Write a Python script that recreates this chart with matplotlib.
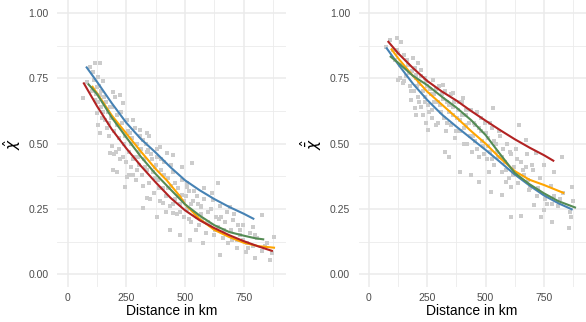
import numpy as np
import matplotlib
matplotlib.use('Agg')
import matplotlib.pyplot as plt
from matplotlib.ticker import MultipleLocator

plt.rcParams['font.family'] = ['Liberation Sans', 'DejaVu Sans']

# ---- left panel: scatter cloud
left_pts_x = [67, 84, 95, 116, 138, 109, 131, 124, 116, 138, 124, 131, 145, 138, 195, 202, 180, 223, 237,
              180, 195, 209, 251, 244, 280, 277, 266, 308, 322, 337, 344, 301, 379, 372, 393, 422, 450,
              322, 337, 379, 408, 436, 450, 479, 486, 507, 528, 521, 550, 570, 578, 592, 621, 642, 649,
              655, 692, 706, 720, 734, 760, 798, 791, 826, 862, 869, 879,
              105, 112, 120, 128, 135, 142, 150, 156, 160, 168, 172, 178, 185, 190, 198, 205, 212, 218,
              225, 232, 240, 248, 255, 262, 270, 276, 284, 290, 296, 304, 312, 318, 326, 333, 340, 348,
              355, 362, 368, 376, 384, 392, 398, 405, 412, 420, 428, 435, 442, 450, 458, 465, 472, 480,
              488, 495, 502, 510, 518, 526, 534, 542, 550, 558, 566, 574, 582, 590, 598, 606, 614, 622,
              630, 640, 650, 660, 672, 684, 696, 708, 720, 735, 748, 762, 776, 790, 805, 830, 850,
              140, 152, 165, 176, 188, 196, 210, 220, 228, 236, 244, 252, 260, 268, 278, 286, 294, 302,
              310, 320, 330, 338, 346, 352, 360, 372, 380, 388, 396, 410, 418, 426, 440, 448, 456, 470,
              478, 486, 494, 508, 516, 524, 540, 548, 556, 570, 580, 596, 610, 628, 645, 665, 680, 700,
              725, 745, 770, 800, 840]
left_pts_y = [0.673, 0.737, 0.795, 0.81, 0.807, 0.776, 0.756, 0.718, 0.667, 0.686, 0.616, 0.571, 0.597,
              0.54, 0.699, 0.68, 0.642, 0.686, 0.654, 0.463, 0.399, 0.393, 0.374, 0.335, 0.38, 0.59,
              0.54, 0.552, 0.514, 0.54, 0.476, 0.45, 0.45, 0.412, 0.489, 0.463, 0.457, 0.253, 0.291,
              0.221, 0.272, 0.17, 0.233, 0.151, 0.304, 0.335, 0.425, 0.131, 0.221, 0.259, 0.119, 0.195,
              0.284, 0.348, 0.074, 0.221, 0.259, 0.208, 0.131, 0.17, 0.087, 0.064, 0.182, 0.227, 0.055,
              0.08, 0.142,
              0.70, 0.745, 0.69, 0.66, 0.72, 0.64, 0.62, 0.68, 0.59, 0.56, 0.62, 0.53, 0.60, 0.49, 0.55,
              0.47, 0.61, 0.52, 0.44, 0.58, 0.50, 0.43, 0.55, 0.47, 0.41, 0.52, 0.45, 0.36, 0.50, 0.42,
              0.48, 0.38, 0.44, 0.50, 0.40, 0.35, 0.46, 0.39, 0.31, 0.42, 0.36, 0.28, 0.40, 0.33, 0.43,
              0.30, 0.37, 0.26, 0.34, 0.39, 0.29, 0.23, 0.33, 0.27, 0.36, 0.22, 0.30, 0.25, 0.32, 0.20,
              0.28, 0.23, 0.30, 0.19, 0.26, 0.21, 0.29, 0.16, 0.24, 0.19, 0.31, 0.15, 0.22, 0.18, 0.26,
              0.14, 0.20, 0.12, 0.17, 0.23, 0.10, 0.15, 0.19, 0.12, 0.16, 0.11, 0.14, 0.09, 0.12,
              0.70, 0.74, 0.66, 0.58, 0.64, 0.46, 0.57, 0.48, 0.62, 0.45, 0.53, 0.59, 0.38, 0.50, 0.44,
              0.56, 0.40, 0.47, 0.53, 0.34, 0.41, 0.47, 0.53, 0.29, 0.44, 0.37, 0.48, 0.33, 0.44, 0.38,
              0.24, 0.33, 0.42, 0.27, 0.35, 0.30, 0.24, 0.41, 0.28, 0.35, 0.21, 0.27, 0.32, 0.17, 0.27,
              0.23, 0.33, 0.20, 0.25, 0.17, 0.21, 0.17, 0.24, 0.13, 0.19, 0.13, 0.10, 0.15, 0.11]

# ---- left panel: fitted curves
l_blue_x = [81, 125, 188, 250, 312, 375, 438, 500, 562, 625, 688, 750, 791]
l_blue_y = [0.792, 0.737, 0.655, 0.580, 0.518, 0.466, 0.410, 0.360, 0.322, 0.288, 0.258, 0.232, 0.213]
l_orange_x = [106, 150, 188, 250, 312, 375, 422, 480, 500, 562, 625, 688, 750, 812, 879]
l_orange_y = [0.718, 0.660, 0.608, 0.539, 0.470, 0.403, 0.360, 0.297, 0.268, 0.212, 0.170, 0.143, 0.121, 0.108, 0.102]
l_green_x = [89, 125, 188, 250, 312, 375, 438, 500, 562, 625, 688, 750, 800, 833]
l_green_y = [0.727, 0.690, 0.600, 0.524, 0.450, 0.384, 0.325, 0.268, 0.225, 0.188, 0.162, 0.148, 0.138, 0.134]
l_red_x = [69, 125, 188, 250, 312, 375, 438, 500, 562, 625, 688, 750, 812, 870]
l_red_y = [0.731, 0.644, 0.555, 0.482, 0.415, 0.352, 0.293, 0.245, 0.207, 0.177, 0.150, 0.127, 0.107, 0.090]

# ---- right panel: scatter cloud
right_pts_x = [75, 89, 118, 139, 104, 125, 132, 146, 125, 189, 210, 224, 203, 182, 196, 203, 246, 253,
               239, 274, 317, 359, 402, 416, 324, 345, 388, 437, 473, 515, 522, 530, 569, 587, 608, 608,
               643, 650, 672, 672, 686, 707, 714, 736, 750, 785, 793, 828, 864, 857, 871,
               110, 120, 135, 148, 158, 166, 175, 184, 192, 200, 208, 216, 224, 232, 240, 248, 256, 264,
               272, 280, 288, 296, 304, 312, 320, 328, 336, 344, 352, 360, 368, 376, 384, 392, 400, 408,
               416, 424, 432, 440, 448, 456, 464, 472, 480, 488, 496, 504, 512, 520, 528, 536, 544, 552,
               560, 568, 576, 584, 592, 600, 610, 620, 630, 640, 652, 664, 676, 690, 704, 718, 732, 748,
               762, 778, 795, 812, 830, 860, 875,
               150, 162, 172, 180, 196, 205, 214, 222, 230, 238, 246, 254, 262, 270, 278, 286, 294, 302,
               310, 318, 326, 334, 342, 350, 358, 366, 374, 382, 390, 398, 406, 414, 422, 430, 438, 446,
               454, 462, 470, 478, 486, 494, 502, 510, 518, 526, 534, 548, 556, 572, 588, 604, 618, 636,
               660, 682, 700, 726, 756, 784, 820]
right_pts_y = [0.871, 0.897, 0.903, 0.89, 0.858, 0.846, 0.75, 0.731, 0.744, 0.827, 0.807, 0.782, 0.763,
               0.667, 0.635, 0.61, 0.578, 0.552, 0.75, 0.744, 0.724, 0.693, 0.673, 0.629, 0.469, 0.45,
               0.393, 0.38, 0.355, 0.393, 0.316, 0.635, 0.304, 0.355, 0.335, 0.221, 0.571, 0.223, 0.514,
               0.412, 0.323, 0.265, 0.463, 0.221, 0.246, 0.202, 0.393, 0.45, 0.221, 0.176, 0.335,
               0.82, 0.86, 0.80, 0.84, 0.76, 0.80, 0.72, 0.78, 0.70, 0.75, 0.68, 0.73, 0.64, 0.70, 0.66,
               0.72, 0.62, 0.69, 0.60, 0.66, 0.71, 0.58, 0.65, 0.69, 0.60, 0.55, 0.66, 0.62, 0.57, 0.64,
               0.52, 0.60, 0.66, 0.55, 0.61, 0.50, 0.57, 0.63, 0.53, 0.47, 0.58, 0.51, 0.62, 0.45, 0.55,
               0.49, 0.58, 0.44, 0.52, 0.47, 0.56, 0.42, 0.50, 0.45, 0.53, 0.39, 0.48, 0.43, 0.50, 0.37,
               0.46, 0.41, 0.48, 0.35, 0.43, 0.38, 0.46, 0.33, 0.40, 0.30, 0.37, 0.42, 0.27, 0.34, 0.30,
               0.26, 0.31, 0.24, 0.28,
               0.74, 0.82, 0.77, 0.70, 0.79, 0.72, 0.66, 0.76, 0.61, 0.68, 0.74, 0.65, 0.71, 0.63, 0.69,
               0.57, 0.66, 0.72, 0.62, 0.67, 0.70, 0.58, 0.65, 0.69, 0.61, 0.66, 0.55, 0.63, 0.59, 0.66,
               0.56, 0.61, 0.50, 0.58, 0.63, 0.53, 0.57, 0.48, 0.56, 0.60, 0.51, 0.46, 0.54, 0.49, 0.58,
               0.44, 0.51, 0.47, 0.55, 0.45, 0.40, 0.47, 0.38, 0.44, 0.40, 0.36, 0.42, 0.33, 0.29, 0.27,
               0.29]

# ---- right panel: fitted curves
r_blue_x = [76, 125, 188, 250, 312, 375, 438, 500, 562, 625, 688, 750, 812, 869]
r_blue_y = [0.865, 0.804, 0.730, 0.667, 0.612, 0.565, 0.520, 0.476, 0.430, 0.382, 0.340, 0.302, 0.272, 0.249]
r_orange_x = [97, 125, 188, 250, 312, 375, 438, 500, 562, 625, 688, 750, 833]
r_orange_y = [0.861, 0.827, 0.760, 0.699, 0.650, 0.600, 0.548, 0.500, 0.445, 0.395, 0.362, 0.342, 0.312]
r_green_x = [93, 125, 188, 250, 312, 375, 438, 500, 562, 625, 688, 750, 812, 883]
r_green_y = [0.833, 0.810, 0.760, 0.724, 0.680, 0.638, 0.590, 0.533, 0.460, 0.388, 0.345, 0.310, 0.280, 0.256]
r_red_x = [83, 125, 188, 250, 312, 375, 438, 500, 562, 625, 688, 750, 790]
r_red_y = [0.890, 0.846, 0.790, 0.740, 0.700, 0.665, 0.625, 0.588, 0.552, 0.517, 0.485, 0.456, 0.435]

x_ticks = [0, 250, 500, 750]
y_ticks = [0.00, 0.25, 0.50, 0.75, 1.00]

c_blue = '#4682B4'
c_orange = '#FFA500'
c_green = '#548B54'
c_red = '#B22222'
c_pts = '#CCCCCC'

fig = plt.figure(figsize=(5.86, 3.22), dpi=100)
ax1 = fig.add_axes([57.1 / 586, 1 - 287.4 / 322, 228.4 / 586, 287.4 / 322])
ax2 = fig.add_axes([358.5 / 586, 1 - 287.4 / 322, 227.0 / 586, 287.4 / 322])


def style(ax, ylab):
    ax.set_xlim(-45, 928)
    ax.set_ylim(-0.05, 1.05)
    ax.set_xticks(x_ticks)
    ax.set_xticklabels([str(v) for v in x_ticks])
    ax.set_yticks(y_ticks)
    ax.set_yticklabels(['%.2f' % v for v in y_ticks])
    ax.xaxis.set_minor_locator(MultipleLocator(125))
    ax.yaxis.set_minor_locator(MultipleLocator(0.125))
    ax.grid(which='major', color='#EBEBEB', lw=1.1, zorder=0)
    ax.grid(which='minor', color='#EBEBEB', lw=0.6, zorder=0)
    ax.set_axisbelow(True)
    for s in ax.spines.values():
        s.set_visible(False)
    ax.tick_params(which='both', length=0, labelsize=7.5, labelcolor='#4D4D4D')
    ax.tick_params(axis='y', pad=6)
    ax.tick_params(axis='x', pad=4)
    ax.set_xlabel('Distance in km', fontsize=10, labelpad=1)
    ax.set_ylabel(ylab, fontsize=11, labelpad=4)


ax1.scatter(left_pts_x, left_pts_y, s=5, marker='s', color=c_pts, linewidths=0, zorder=2)
ax1.plot(l_blue_x, l_blue_y, color=c_blue, lw=1.5, zorder=3)
ax1.plot(l_orange_x, l_orange_y, color=c_orange, lw=1.5, zorder=3)
ax1.plot(l_green_x, l_green_y, color=c_green, lw=1.5, zorder=3)
ax1.plot(l_red_x, l_red_y, color=c_red, lw=1.5, zorder=3)
style(ax1, r'$\hat{\chi}$')

ax2.scatter(right_pts_x, right_pts_y, s=5, marker='s', color=c_pts, linewidths=0, zorder=2)
ax2.plot(r_blue_x, r_blue_y, color=c_blue, lw=1.5, zorder=3)
ax2.plot(r_orange_x, r_orange_y, color=c_orange, lw=1.5, zorder=3)
ax2.plot(r_green_x, r_green_y, color=c_green, lw=1.5, zorder=3)
ax2.plot(r_red_x, r_red_y, color=c_red, lw=1.5, zorder=3)
style(ax2, r'$\hat{\bar{\chi}}$')

fig.savefig('out.png', dpi=100)
